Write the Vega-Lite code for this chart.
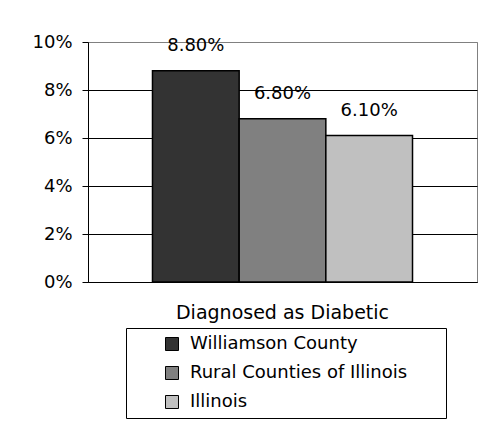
{
  "$schema": "https://vega.github.io/schema/vega-lite/v6.json",
  "autosize": {"type": "none"},
  "width": 389,
  "height": 240,
  "padding": {"left": 88, "top": 42, "right": 19, "bottom": 141},
  "background": "white",
  "config": {
    "font": "DejaVu Sans",
    "view": {"stroke": "#808080", "strokeWidth": 1}
  },
  "data": {
    "values": [
      {"category": "Diagnosed as Diabetic", "series": "Williamson County", "value": 0.088},
      {"category": "Diagnosed as Diabetic", "series": "Rural Counties of Illinois", "value": 0.068},
      {"category": "Diagnosed as Diabetic", "series": "Illinois", "value": 0.061}
    ]
  },
  "encoding": {
    "x": {
      "field": "category",
      "type": "nominal",
      "scale": {"paddingInner": 0, "paddingOuter": 0.248},
      "axis": {
        "title": null,
        "labelAngle": 0,
        "labelFontSize": 19,
        "labelColor": "black",
        "labelPadding": 21,
        "labelLimit": 400,
        "ticks": false,
        "tickSize": 0,
        "domainColor": "black",
        "domainWidth": 1
      }
    },
    "xOffset": {
      "field": "series",
      "type": "nominal",
      "sort": ["Williamson County", "Rural Counties of Illinois", "Illinois"],
      "scale": {"paddingInner": 0, "paddingOuter": 0}
    },
    "y": {
      "field": "value",
      "type": "quantitative",
      "scale": {"domain": [0, 0.1], "nice": false},
      "axis": {
        "title": null,
        "values": [0, 0.02, 0.04, 0.06, 0.08, 0.1],
        "format": ".0%",
        "labelFontSize": 18,
        "labelColor": "black",
        "labelPadding": 10,
        "tickSize": 6,
        "tickColor": "black",
        "domainColor": "black",
        "grid": true,
        "gridColor": {"condition": {"test": "datum.value >= 0.1", "value": "#808080"}, "value": "black"},
        "gridOpacity": 1
      }
    }
  },
  "layer": [
    {
      "mark": {"type": "bar", "stroke": "black", "strokeWidth": 1.5},
      "encoding": {
        "color": {
          "field": "series",
          "type": "nominal",
          "sort": ["Williamson County", "Rural Counties of Illinois", "Illinois"],
          "scale": {
            "domain": ["Williamson County", "Rural Counties of Illinois", "Illinois"],
            "range": ["#333333", "#808080", "#c0c0c0"]
          },
          "legend": {
            "orient": "none",
            "legendX": 38,
            "legendY": 286,
            "title": " ",
            "titleOrient": "right",
            "titleFontSize": 1,
            "titlePadding": 32,
            "padding": 7,
            "strokeColor": "black",
            "fillColor": "white",
            "symbolType": "square",
            "symbolSize": 169,
            "symbolOffset": 30,
            "symbolStrokeColor": "black",
            "symbolStrokeWidth": 1,
            "symbolOpacity": 1,
            "labelOffset": 9,
            "labelFontSize": 18,
            "labelColor": "black",
            "labelLimit": 400,
            "rowPadding": 11
          }
        }
      }
    },
    {
      "mark": {"type": "text", "dy": -20, "baseline": "alphabetic", "fontSize": 18, "color": "black"},
      "encoding": {
        "text": {"field": "value", "type": "quantitative", "format": ".2%"}
      }
    }
  ]
}
